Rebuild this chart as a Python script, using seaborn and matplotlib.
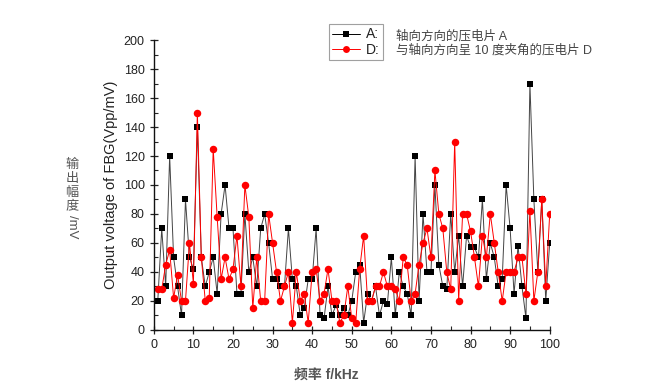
import numpy as np
import pandas as pd
import matplotlib
matplotlib.use('Agg')
import matplotlib.pyplot as plt
from matplotlib.ticker import MultipleLocator
import seaborn as sns

# frequency (kHz) and output voltage readings of the two piezo sheets
freq = list(range(1, 101))
volt_a = [20, 70, 30, 120, 50, 30, 10, 90, 50, 42,
          140, 50, 30, 40, 50, 25, 80, 100, 70, 70,
          25, 25, 80, 40, 50, 30, 70, 80, 60, 35,
          35, 30, 30, 70, 35, 30, 10, 15, 35, 35,
          70, 10, 8, 30, 10, 17, 10, 15, 10, 20,
          40, 45, 5, 25, 20, 30, 10, 20, 18, 50,
          10, 40, 30, 25, 10, 120, 20, 80, 40, 40,
          100, 45, 30, 28, 80, 40, 65, 30, 65, 57,
          57, 50, 90, 35, 60, 50, 30, 35, 100, 70,
          25, 58, 30, 8, 170, 90, 40, 90, 20, 60]
volt_d = [28, 28, 45, 55, 22, 38, 20, 20, 60, 32,
          150, 50, 20, 22, 125, 78, 35, 50, 35, 42,
          65, 30, 100, 78, 15, 50, 20, 20, 80, 60,
          40, 20, 30, 40, 5, 40, 20, 25, 5, 40,
          42, 20, 25, 42, 20, 20, 5, 10, 30, 8,
          5, 42, 65, 20, 20, 30, 30, 40, 30, 30,
          28, 20, 50, 45, 20, 25, 45, 60, 70, 50,
          110, 80, 70, 40, 28, 130, 20, 80, 80, 68,
          50, 30, 65, 50, 80, 60, 40, 20, 40, 40,
          40, 50, 50, 25, 82, 20, 40, 90, 30, 80]
series_labels = ['A:', 'D:']
series_desc = ['轴向方向的压电片 A', '与轴向方向呈 10 度夹角的压电片 D']

df = pd.DataFrame({'freq': freq * 2,
                   'volt': volt_a + volt_d,
                   'piezo': [series_labels[0]] * len(freq) + [series_labels[1]] * len(freq)})

sns.set_style('ticks')
plt.rcParams['font.family'] = ['Liberation Sans', 'Noto Sans CJK SC']

fig = plt.figure(figsize=(6.49, 3.85), dpi=100)
ax = fig.add_axes([0.237, 0.143, 0.61, 0.753])

sns.lineplot(data=df, x='freq', y='volt', hue='piezo', style='piezo',
             palette={'A:': 'black', 'D:': 'red'},
             markers={'A:': 's', 'D:': 'o'}, dashes=False,
             markersize=5, markeredgewidth=0, linewidth=0.7,
             ax=ax, legend=True)
# black series: grey connecting line, black squares
line_a, line_d = ax.lines[0], ax.lines[1]
line_a.set_color('#444444')
line_a.set_markerfacecolor('black')
line_a.set_markeredgecolor('black')
line_a.set_markersize(4.6)
line_d.set_markersize(5.4)

ax.set_xlim(0, 100)
ax.set_ylim(0, 200)
ax.xaxis.set_major_locator(MultipleLocator(10))
ax.xaxis.set_minor_locator(MultipleLocator(5))
ax.yaxis.set_major_locator(MultipleLocator(20))
ax.yaxis.set_minor_locator(MultipleLocator(10))
ax.tick_params(which='major', direction='inout', length=6, width=0.9,
               labelsize=9, colors='#222222')
ax.tick_params(which='minor', direction='in', length=3, width=0.8)
sns.despine(ax=ax)
for s in ['left', 'bottom']:
    ax.spines[s].set_linewidth(1.0)
    ax.spines[s].set_color('#111111')

ax.set_xlabel('频率 f/kHz', fontsize=10, color='#555555', fontweight='bold')
ax.xaxis.set_label_coords((327 - 154) / 396, -(368 - 330) / 290)
ax.set_ylabel('Output voltage of FBG(Vpp/mV)', fontsize=10.5, color='#222222')
ax.yaxis.set_label_coords(-(154 - 118) / 396, 0.5)

# stacked Chinese label on the far left, one character per row
for i, ch in enumerate('输出幅度'):
    fig.text(72 / 649, 1 - (165 + 14 * i) / 385, ch, fontsize=9.5, color='#555555',
             ha='center', va='center')
fig.text(72 / 649, 1 - 227 / 385, '/mV', fontsize=9.5, color='#555555',
         ha='center', va='center', rotation=-90)

leg = ax.legend(loc='upper left', bbox_to_anchor=(329 / 649, 1 - 24 / 385),
                bbox_transform=fig.transFigure, fontsize=10, frameon=True,
                fancybox=False, shadow=False, handlelength=2.0, handletextpad=0.4,
                borderpad=0.25, labelspacing=0.1, borderaxespad=0)
leg.get_frame().set_edgecolor('#888888')
leg.get_frame().set_linewidth(0.8)
for t in leg.get_texts():
    t.set_color('#222222')

for i, txt in enumerate(series_desc):
    fig.text(396 / 649, 1 - (36 + 14 * i) / 385, txt, fontsize=9,
             color='#444444', ha='left', va='center')

fig.savefig('out.png', dpi=100)
